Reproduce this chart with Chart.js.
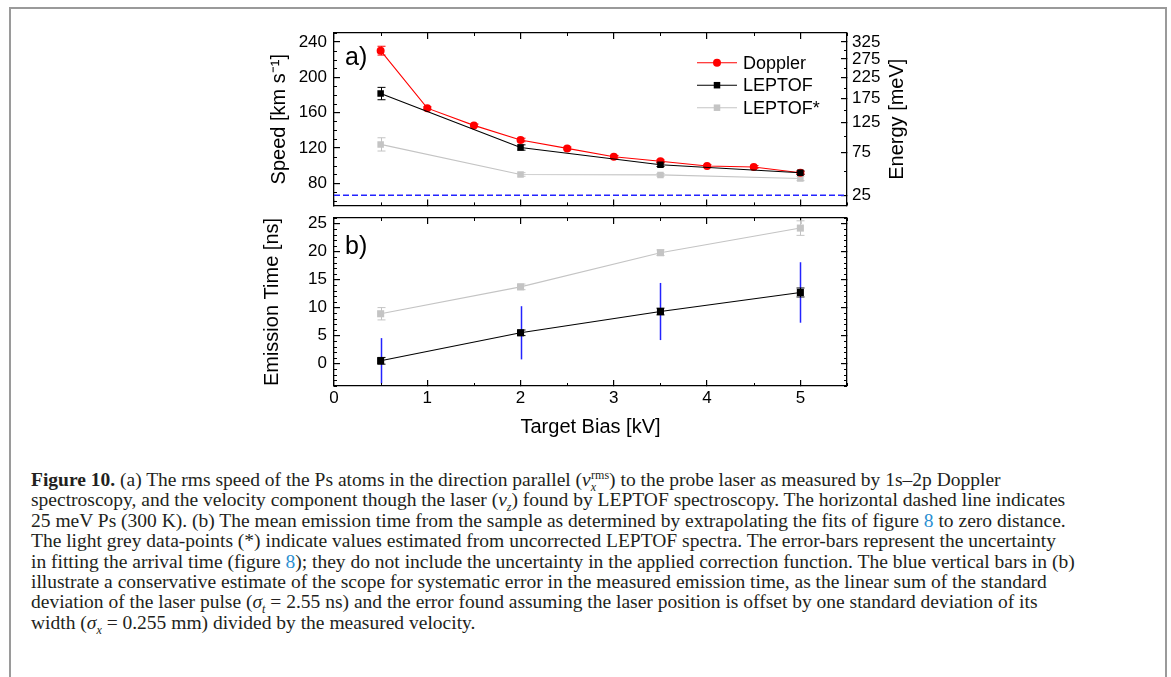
<!DOCTYPE html>
<html>
<head>
<meta charset="utf-8">
<script src="https://cdn.jsdelivr.net/npm/chart.js@4.4.1/dist/chart.umd.min.js"></script>
<style>
  html, body { margin: 0; padding: 0; background: #fff; }
  body { width: 1171px; height: 677px; overflow: hidden; position: relative; }
  #frame { position: absolute; left: 9px; top: 7px; width: 1154px; height: 720px; border: 2px solid #9a9a9a; }
  #panelA { position: absolute; left: 200px; top: 14px; }
  #panelB { position: absolute; left: 200px; top: 210px; }
  .tag { position: absolute; font-family: "Liberation Sans", Arial, sans-serif; font-size: 25px; color: #000; }
  #caption { position: absolute; left: 31px; top: 470px; font-family: "Liberation Serif", "Times New Roman", serif;
    font-size: 19.5px; line-height: 20.4px; color: #231f20; white-space: nowrap; }
  #caption .ref { color: #2b8fd1; }
  #caption sub, #caption sup { font-size: 12px; line-height: 0; }
</style>
</head>
<body>
<div id="frame"></div>
<canvas id="panelA" width="780" height="196"></canvas>
<canvas id="panelB" width="780" height="247"></canvas>
<div class="tag" style="left:345px; top:42px;">a)</div>
<div class="tag" style="left:345px; top:231px;">b)</div>
<div id="caption">
  <div><b>Figure 10.</b> (a) The rms speed of the Ps atoms in the direction parallel (<i>ν</i><sub><i>x</i></sub><sup style="margin-left:-5px">rms</sup>) to the probe laser as measured by 1s–2p Doppler</div>
  <div>spectroscopy, and the velocity component though the laser (<i>ν</i><sub><i>z</i></sub>) found by LEPTOF spectroscopy. The horizontal dashed line indicates</div>
  <div>25 meV Ps (300 K). (b) The mean emission time from the sample as determined by extrapolating the fits of figure <span class="ref">8</span> to zero distance.</div>
  <div>The light grey data-points (*) indicate values estimated from uncorrected LEPTOF spectra. The error-bars represent the uncertainty</div>
  <div>in fitting the arrival time (figure <span class="ref">8</span>); they do not include the uncertainty in the applied correction function. The blue vertical bars in (b)</div>
  <div>illustrate a conservative estimate of the scope for systematic error in the measured emission time, as the linear sum of the standard</div>
  <div>deviation of the laser pulse (<i>σ</i><sub><i>t</i></sub> = 2.55 ns) and the error found assuming the laser position is offset by one standard deviation of its</div>
  <div>width (<i>σ</i><sub><i>x</i></sub> = 0.255 mm) divided by the measured velocity.</div>
</div>
<script>
// Ps speed / emission time vs target bias

// target bias [kV]
const dopplerBias = [0.5, 1, 1.5, 2, 2.5, 3, 3.5, 4, 4.5, 5];
const leptofBias = [0.5, 2, 3.5, 5];

// panel a) speed [km/s]
const dopplerSpeed = [230, 165, 145.5, 129, 119.5, 110, 105, 99.5, 98.5, 92];
const dopplerSpeedErr = [5, 1.5, 1.5, 2, 1.5, 1.5, 1.5, 1.5, 1.5, 1.5];
const leptofSpeed = [181.5, 120.5, 101, 92];
const leptofSpeedErr = [7, 3, 2, 2];
const leptofStarSpeed = [124, 90, 89.5, 85.5];
const leptofStarSpeedErr = [7.5, 2, 1.5, 2.5];
const thermalEnergy = 25; // meV, dashed line

// panel b) emission time [ns]
const leptofTime = [0.5, 5.5, 9.3, 12.7];
const leptofTimeErr = [0.6, 0.5, 0.6, 0.8];
const leptofStarTime = [8.9, 13.7, 19.8, 24.2];
const leptofStarTimeErr = [1.1, 0.5, 0.5, 1.3];
const systematicErr = [4.05, 4.75, 5.1, 5.4];

// axis ticks
const biasTicks = [0, 1, 2, 3, 4, 5];
const biasMinor = [0.5, 1.5, 2.5, 3.5, 4.5, 5.5];
const speedTicks = [80, 120, 160, 200, 240];
const speedMinor = [60, 70, 90, 100, 110, 130, 140, 150, 170, 180, 190, 210, 220, 230, 250];
const energyTicks = [25, 75, 125, 175, 225, 275, 325];
const energyMinor = [50, 100, 150, 200, 250, 300];
const timeTicks = [0, 5, 10, 15, 20, 25];
const timeMinor = [-4, -3, -2, -1, 1, 2, 3, 4, 6, 7, 8, 9, 11, 12, 13, 14, 16, 17, 18, 19, 21, 22, 23, 24, 26];

// E = m v^2 / 2 for Ps, v in km/s, E in meV
const SPEED_PER_ROOT_MEV = 13.3;
const speedFromEnergy = (e) => SPEED_PER_ROOT_MEV * Math.sqrt(e);

const RED = '#ff0000';
const BLACK = '#000000';
const GREY = '#c4c4c4';
const BLUE = '#2323ff';

Chart.defaults.font.family = '"Liberation Sans", Arial, sans-serif';
Chart.defaults.font.size = 17;
Chart.defaults.color = '#000';
Chart.defaults.animation = false;

const points = (xs, ys) => xs.map((x, i) => ({ x: x, y: ys[i] }));

function fixWidth(w) {
  return (scale) => {
    scale.width = w;
    scale.paddingTop = scale.paddingBottom = scale.paddingLeft = scale.paddingRight = 0;
  };
}
function fixHeight(h) {
  return (scale) => {
    scale.height = h;
    scale.paddingTop = scale.paddingBottom = scale.paddingLeft = scale.paddingRight = 0;
  };
}
function useTicks(values) {
  return (scale) => { scale.ticks = values.map((v) => ({ value: v })); };
}

const frameGrid = { display: true, drawOnChartArea: false, drawTicks: true, tickLength: -6, color: BLACK, lineWidth: 1.2 };
const frameBorder = { display: true, color: BLACK, width: 1.3 };

function makeAxis(position, min, max, ticks, size, extra) {
  const horizontal = position === 'top' || position === 'bottom';
  return Object.assign({
    type: 'linear',
    position: position,
    min: min,
    max: max,
    grid: frameGrid,
    border: frameBorder,
    ticks: { display: false, autoSkip: false, maxRotation: 0 },
    afterBuildTicks: useTicks(ticks),
    afterFit: horizontal ? fixHeight(size) : fixWidth(size)
  }, extra || {});
}

// short inward ticks between the labelled ones
function minorTicksPlugin(list) {
  return {
    id: 'minorTicks',
    afterDraw(chart) {
      const ctx = chart.ctx;
      const area = chart.chartArea;
      ctx.save();
      ctx.strokeStyle = BLACK;
      ctx.lineWidth = 1;
      list.forEach(({ axis, values, side }) => {
        const scale = chart.scales[axis];
        values.forEach((v) => {
          const p = Math.round(scale.getPixelForValue(v)) + 0.5;
          ctx.beginPath();
          if (side === 'top') { ctx.moveTo(p, area.top); ctx.lineTo(p, area.top + 3); }
          if (side === 'bottom') { ctx.moveTo(p, area.bottom); ctx.lineTo(p, area.bottom - 3); }
          if (side === 'left') { ctx.moveTo(area.left, p); ctx.lineTo(area.left + 3, p); }
          if (side === 'right') { ctx.moveTo(area.right, p); ctx.lineTo(area.right - 3, p); }
          ctx.stroke();
        });
      });
      ctx.restore();
    }
  };
}

// vertical error bars with caps, drawn under the markers
function errorBarsPlugin(list) {
  return {
    id: 'errorBars',
    beforeDatasetsDraw(chart) {
      const ctx = chart.ctx;
      const area = chart.chartArea;
      const xs = chart.scales.x;
      const ys = chart.scales.y;
      ctx.save();
      ctx.beginPath();
      ctx.rect(area.left, area.top, area.right - area.left, area.bottom - area.top);
      ctx.clip();
      list.forEach(({ xValues, yValues, errors, color, width, cap }) => {
        ctx.strokeStyle = color;
        ctx.lineWidth = width;
        xValues.forEach((xv, i) => {
          const px = Math.round(xs.getPixelForValue(xv)) + 0.5;
          const top = ys.getPixelForValue(yValues[i] + errors[i]);
          const bottom = ys.getPixelForValue(yValues[i] - errors[i]);
          ctx.beginPath();
          ctx.moveTo(px, top);
          ctx.lineTo(px, bottom);
          if (cap) {
            ctx.moveTo(px - cap, top); ctx.lineTo(px + cap, top);
            ctx.moveTo(px - cap, bottom); ctx.lineTo(px + cap, bottom);
          }
          ctx.stroke();
        });
      });
      ctx.restore();
    }
  };
}

const legendPlugin = {
  id: 'lineLegend',
  afterDraw(chart) {
    const ctx = chart.ctx;
    const area = chart.chartArea;
    ctx.save();
    ctx.font = '18px "Liberation Sans", Arial, sans-serif';
    ctx.textBaseline = 'middle';
    ctx.fillStyle = BLACK;
    [0, 1, 2].forEach((di, row) => {
      const ds = chart.data.datasets[di];
      const y = area.top + 29.7 + row * 22.5;
      const x1 = area.right - 150;
      const x2 = area.right - 110;
      ctx.strokeStyle = ds.borderColor;
      ctx.lineWidth = ds.borderWidth;
      ctx.beginPath();
      ctx.moveTo(x1, y);
      ctx.lineTo(x2, y);
      ctx.stroke();
      ctx.fillStyle = ds.pointBackgroundColor;
      Chart.helpers.drawPoint(ctx, { pointStyle: ds.pointStyle, radius: ds.pointRadius, borderWidth: 0 }, (x1 + x2) / 2, y);
      ctx.fillStyle = BLACK;
      ctx.fillText(ds.label, area.right - 104, y + 1);
    });
    ctx.restore();
  }
};

// right-hand energy title reads bottom-to-top
const energyTitlePlugin = {
  id: 'energyTitle',
  afterDraw(chart) {
    const ctx = chart.ctx;
    const area = chart.chartArea;
    ctx.save();
    ctx.translate(area.right + 50, (area.top + area.bottom) / 2);
    ctx.rotate(-Math.PI / 2);
    ctx.font = '20px "Liberation Sans", Arial, sans-serif';
    ctx.textAlign = 'center';
    ctx.textBaseline = 'middle';
    ctx.fillStyle = BLACK;
    ctx.fillText('Energy [meV]', 0, 0);
    ctx.restore();
  }
};

function seriesStyle(color, style, radius, order) {
  return {
    borderColor: color,
    backgroundColor: color,
    pointBackgroundColor: color,
    pointBorderColor: color,
    pointBorderWidth: 0,
    pointStyle: style,
    pointRadius: radius,
    borderWidth: 1.1,
    tension: 0,
    order: order
  };
}

// panel a)
new Chart(document.getElementById('panelA'), {
  type: 'line',
  data: {
    datasets: [
      Object.assign({ label: 'Doppler', data: points(dopplerBias, dopplerSpeed) }, seriesStyle(RED, 'circle', 4, 2)),
      Object.assign({ label: 'LEPTOF', data: points(leptofBias, leptofSpeed) }, seriesStyle(BLACK, 'rect', 4.6, 1)),
      Object.assign({ label: 'LEPTOF*', data: points(leptofBias, leptofStarSpeed) }, seriesStyle(GREY, 'rect', 4.6, 3)),
      {
        label: '25 meV',
        data: [{ x: 0, y: speedFromEnergy(thermalEnergy) }, { x: 5.5, y: speedFromEnergy(thermalEnergy) }],
        borderColor: BLUE,
        borderWidth: 1.3,
        borderDash: [6, 3],
        pointRadius: 0,
        order: 4
      }
    ]
  },
  options: {
    responsive: false,
    events: [],
    layout: { padding: 0 },
    plugins: { legend: { display: false }, tooltip: { enabled: false } },
    scales: {
      x: makeAxis('bottom', 0, 5.5, biasTicks, 4),
      xTop: makeAxis('top', 0, 5.5, biasTicks, 19),
      y: makeAxis('left', 55, 250, speedTicks, 134, {
        ticks: { display: true, autoSkip: false, padding: 13, font: { size: 17 } },
        title: { display: true, text: 'Speed [km s⁻¹]', font: { size: 20 }, padding: { top: 67, bottom: 0 } }
      }),
      yE: makeAxis('right', 55, 250, energyTicks.map(speedFromEnergy), 133, {
        ticks: {
          display: true, autoSkip: false, padding: 11, font: { size: 17, lineHeight: 1 },
          callback: (value, index) => energyTicks[index]
        }
      })
    }
  },
  plugins: [
    errorBarsPlugin([
      { xValues: dopplerBias, yValues: dopplerSpeed, errors: dopplerSpeedErr, color: RED, width: 1, cap: 4 },
      { xValues: leptofBias, yValues: leptofSpeed, errors: leptofSpeedErr, color: BLACK, width: 1, cap: 4 },
      { xValues: leptofBias, yValues: leptofStarSpeed, errors: leptofStarSpeedErr, color: GREY, width: 1, cap: 4 }
    ]),
    minorTicksPlugin([
      { axis: 'x', values: biasMinor, side: 'bottom' },
      { axis: 'xTop', values: biasMinor, side: 'top' },
      { axis: 'y', values: speedMinor, side: 'left' },
      { axis: 'yE', values: energyMinor.map(speedFromEnergy), side: 'right' }
    ]),
    legendPlugin,
    energyTitlePlugin
  ]
});

// panel b)
new Chart(document.getElementById('panelB'), {
  type: 'line',
  data: {
    datasets: [
      Object.assign({ label: 'LEPTOF', data: points(leptofBias, leptofTime) }, seriesStyle(BLACK, 'rect', 5, 1)),
      Object.assign({ label: 'LEPTOF*', data: points(leptofBias, leptofStarTime) }, seriesStyle(GREY, 'rect', 5, 2))
    ]
  },
  options: {
    responsive: false,
    events: [],
    layout: { padding: 0 },
    plugins: { legend: { display: false }, tooltip: { enabled: false } },
    scales: {
      x: makeAxis('bottom', 0, 5.5, biasTicks, 71, {
        ticks: { display: true, autoSkip: false, maxRotation: 0, padding: 8, font: { size: 17 } },
        title: { display: true, text: 'Target Bias [kV]', font: { size: 20 }, padding: { top: 0, bottom: 18 } }
      }),
      xTop: makeAxis('top', 0, 5.5, biasTicks, 8),
      y: makeAxis('left', -4, 26, timeTicks, 134, {
        ticks: { display: true, autoSkip: false, padding: 13, font: { size: 17 } },
        title: { display: true, text: 'Emission Time [ns]', font: { size: 20 }, padding: { top: 60, bottom: 0 } }
      }),
      y2: makeAxis('right', -4, 26, timeTicks, 133)
    }
  },
  plugins: [
    errorBarsPlugin([
      { xValues: leptofBias, yValues: leptofTime, errors: systematicErr, color: BLUE, width: 1.5, cap: 0 },
      { xValues: leptofBias, yValues: leptofTime, errors: leptofTimeErr, color: BLACK, width: 1, cap: 4 },
      { xValues: leptofBias, yValues: leptofStarTime, errors: leptofStarTimeErr, color: GREY, width: 1, cap: 4 }
    ]),
    minorTicksPlugin([
      { axis: 'x', values: biasMinor, side: 'bottom' },
      { axis: 'xTop', values: biasMinor, side: 'top' },
      { axis: 'y', values: timeMinor, side: 'left' },
      { axis: 'y2', values: timeMinor, side: 'right' }
    ])
  ]
});
</script>
</body>
</html>
